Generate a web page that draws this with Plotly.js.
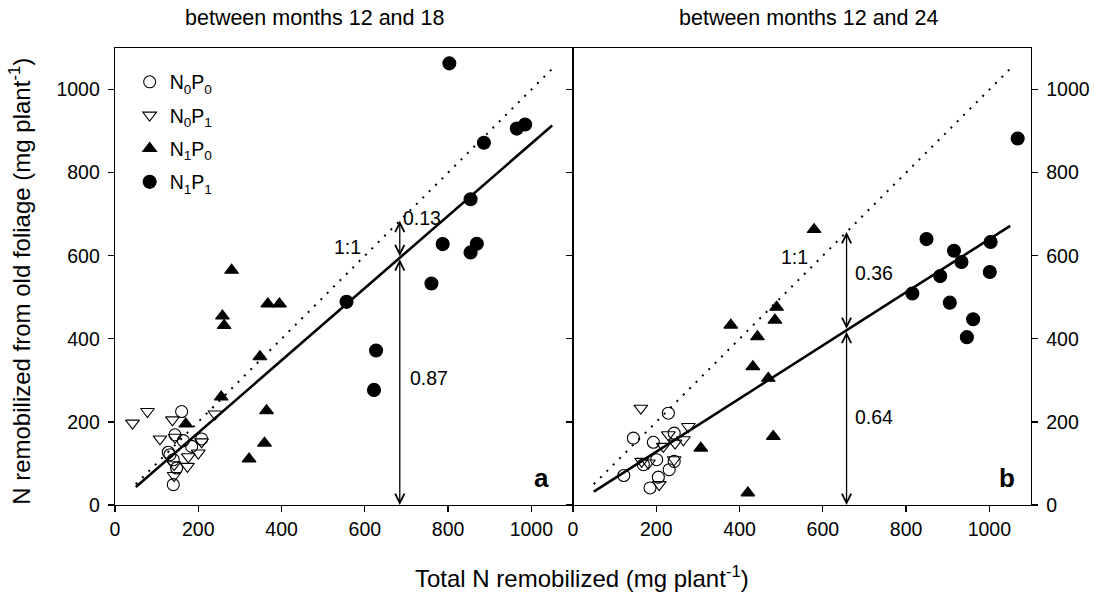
<!DOCTYPE html>
<html>
<head>
<meta charset="utf-8">
<script src="https://cdn.plot.ly/plotly-3.0.1.min.js"></script>
<style>html,body{margin:0;padding:0;background:#fff;}#chart{width:1094px;height:592px;}</style>
</head>
<body>
<div id="chart"></div>
<script>
// ---- data ----
// Panel a: between months 12 and 18
const aN0P0_x = [160,144,164,208,184,132,140,148,140,128];
const aN0P0_y = [225,169,155,159,141,121,109,89,49,127];
const aN0P1_x = [42,78,138,108,144,240,208,200,176,174,142,142];
const aN0P1_y = [197,225,205,159,163,219,152,125,116,93,97,71];
const aN1P0_x = [170,255,258,262,280,322,348,359,364,367,395];
const aN1P0_y = [195,260,455,432,565,111,357,149,227,484,484];
const aN1P1_x = [556,622,627,760,787,803,854,854,869,886,965,985];
const aN1P1_y = [489,277,372,533,628,1063,736,608,629,872,906,916];
// Panel b: between months 12 and 24
const bN0P0_x = [229,145,193,243,201,169,122,231,205,185,243];
const bN0P0_y = [221,161,151,173,109,97,71,85,67,41,105];
const bN0P1_x = [163,277,229,265,245,217,181,165,243,207];
const bN0P1_y = [233,189,169,157,149,141,101,105,109,49];
const bN1P0_x = [579,379,489,485,443,432,469,307,481,420];
const bN1P0_y = [663,433,476,445,405,333,305,137,165,29];
const bN1P1_x = [815,882,915,933,1003,1001,905,961,946,849,1068];
const bN1P1_y = [509,551,612,585,633,561,487,447,404,640,882];

const seriesNames = ["N<sub>0</sub>P<sub>0</sub>","N<sub>0</sub>P<sub>1</sub>","N<sub>1</sub>P<sub>0</sub>","N<sub>1</sub>P<sub>1</sub>"];
const panelTitles = ["between months 12 and 18","between months 12 and 24"];
const panelLetters = ["a","b"];
const fitSlopes = [0.87, 0.64];
const lineRange = [50, 1050];
const arrowX = [684, 657];
const fracLabels = [["0.13","0.87"],["0.36","0.64"]];
const tickVals = [0,200,400,600,800,1000];

const FONT = '"Liberation Sans", Arial, sans-serif';
const symbols = ['circle-open','triangle-down-open','triangle-up','circle'];
const sizes = [12,12,12,13];

function pts(x, y, k, xa, ya, legend) {
  return {x:x, y:y, type:'scatter', mode:'markers', name:seriesNames[k], legendgroup:'g'+k,
    xaxis:xa, yaxis:ya, showlegend:legend, cliponaxis:false,
    marker:{symbol:symbols[k], size:sizes[k], color:'#000', line:{color:'#000', width:1.1}}};
}
const traces = [];
const panels = [
  [[aN0P0_x,aN0P0_y],[aN0P1_x,aN0P1_y],[aN1P0_x,aN1P0_y],[aN1P1_x,aN1P1_y]],
  [[bN0P0_x,bN0P0_y],[bN0P1_x,bN0P1_y],[bN1P0_x,bN1P0_y],[bN1P1_x,bN1P1_y]]
];
panels.forEach((p, i) => {
  const xa = i === 0 ? 'x' : 'x2', ya = i === 0 ? 'y' : 'y2';
  traces.push({x:lineRange, y:lineRange, type:'scatter', mode:'lines', xaxis:xa, yaxis:ya,
    showlegend:false, line:{color:'#000', width:2, dash:'2px,7px'}, hoverinfo:'skip'});
  traces.push({x:lineRange, y:lineRange.map(v => v*fitSlopes[i]), type:'scatter', mode:'lines',
    xaxis:xa, yaxis:ya, showlegend:false, line:{color:'#000', width:2.6}, hoverinfo:'skip'});
  p.forEach((s, k) => traces.push(pts(s[0], s[1], k, xa, ya, i === 0)));
});

function xaxisDef(domain, anchor) {
  return {domain:domain, anchor:anchor, range:[0,1100], tickvals:tickVals, ticks:'outside', ticklen:6,
    tickwidth:1.2, tickcolor:'#000', showline:true, linecolor:'#000', linewidth:1.3, mirror:true,
    showgrid:false, zeroline:false, tickfont:{family:FONT, size:19.5, color:'#000'}, fixedrange:true};
}
function yaxisDef(anchor, side, mirror) {
  return {anchor:anchor, side:side, range:[0,1100], tickvals:tickVals, ticks:'outside', ticklen:6,
    tickwidth:1.2, tickcolor:'#000', showline:true, linecolor:'#000', linewidth:1.3, mirror:mirror,
    ticklabelstandoff:4,
    showgrid:false, zeroline:false, tickfont:{family:FONT, size:19.5, color:'#000'}, fixedrange:true};
}

const annotations = [];
const arrowStyle = {showarrow:true, arrowhead:5, arrowside:'end+start', arrowsize:1.4, arrowwidth:1.3,
  arrowcolor:'#000', standoff:0, startstandoff:0, text:''};
[0,1].forEach(i => {
  const xr = i === 0 ? 'x' : 'x2', yr = i === 0 ? 'y' : 'y2';
  const ax = arrowX[i], yFit = ax*fitSlopes[i];
  annotations.push(Object.assign({}, arrowStyle, {xref:xr, yref:yr, axref:xr, ayref:yr, x:ax, y:ax, ax:ax, ay:yFit}));
  annotations.push(Object.assign({}, arrowStyle, {xref:xr, yref:yr, axref:xr, ayref:yr, x:ax, y:0, ax:ax, ay:yFit}));
});
const tf = {family:FONT, size:19.5, color:'#000'};
annotations.push(
  {xref:'x', yref:'y', x:686, y:692, text:fracLabels[0][0], showarrow:false, xanchor:'left', yanchor:'middle', font:tf},
  {xref:'x', yref:'y', x:704, y:306, text:fracLabels[0][1], showarrow:false, xanchor:'left', yanchor:'middle', font:tf},
  {xref:'x', yref:'y', x:558, y:620, text:'1:1', showarrow:false, xanchor:'center', yanchor:'middle', font:tf},
  {xref:'x2', yref:'y2', x:672, y:558, text:fracLabels[1][0], showarrow:false, xanchor:'left', yanchor:'middle', font:tf},
  {xref:'x2', yref:'y2', x:672, y:212, text:fracLabels[1][1], showarrow:false, xanchor:'left', yanchor:'middle', font:tf},
  {xref:'x2', yref:'y2', x:533, y:597, text:'1:1', showarrow:false, xanchor:'center', yanchor:'middle', font:tf},
  {xref:'x', yref:'y', x:1025, y:66, text:'<b>'+panelLetters[0]+'</b>', showarrow:false, xanchor:'center', yanchor:'middle', font:{family:FONT, size:26, color:'#000'}},
  {xref:'x2', yref:'y2', x:1042, y:66, text:'<b>'+panelLetters[1]+'</b>', showarrow:false, xanchor:'center', yanchor:'middle', font:{family:FONT, size:26, color:'#000'}},
  {xref:'paper', yref:'paper', x:0.218, y:1.066, text:panelTitles[0], showarrow:false, xanchor:'center', yanchor:'middle', font:{family:FONT, size:21.5, color:'#000'}},
  {xref:'paper', yref:'paper', x:0.757, y:1.066, text:panelTitles[1], showarrow:false, xanchor:'center', yanchor:'middle', font:{family:FONT, size:21.5, color:'#000'}},
  {xref:'paper', yref:'paper', x:0.51, y:-0.158, text:'Total N remobilized (mg plant<sup>-1</sup>)', showarrow:false, xanchor:'center', yanchor:'middle', font:{family:FONT, size:24, color:'#000'}},
  {xref:'paper', yref:'paper', x:-0.104, y:0.49, textangle:-90, text:'N remobilized from old foliage (mg plant<sup>-1</sup>)', showarrow:false, xanchor:'center', yanchor:'middle', font:{family:FONT, size:24, color:'#000'}}
);

const layout = {
  width:1094, height:592,
  margin:{l:115, r:63, t:48, b:87, pad:0},
  paper_bgcolor:'#fff', plot_bgcolor:'#fff',
  font:{family:FONT, color:'#000'},
  showlegend:true,
  legend:{x:0.016, y:0.968, xanchor:'left', yanchor:'top', bgcolor:'rgba(0,0,0,0)', borderwidth:0,
    font:{family:FONT, size:19.5, color:'#000'}, traceorder:'grouped', tracegroupgap:5, itemclick:false},
  xaxis: xaxisDef([0,0.5], 'y'),
  xaxis2: xaxisDef([0.5,1], 'y2'),
  yaxis: yaxisDef('x', 'left', true),
  yaxis2: yaxisDef('x2', 'right', 'ticks'),
  annotations: annotations
};
Plotly.newPlot('chart', traces, layout, {displayModeBar:false, staticPlot:true});
</script>
</body>
</html>
